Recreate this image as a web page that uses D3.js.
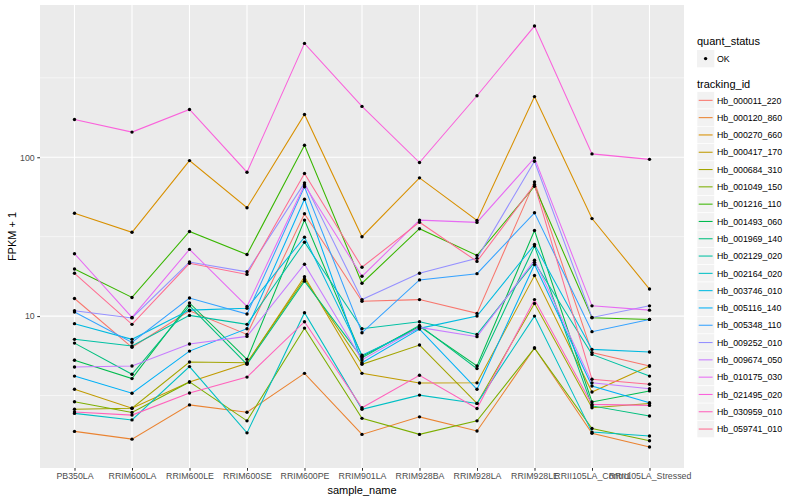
<!DOCTYPE html>
<html>
<head>
<meta charset="utf-8">
<script src="https://cdn.jsdelivr.net/npm/d3@7/dist/d3.min.js"></script>
<style>
  body { margin: 0; background: #fff; }
  text { font-family: "Liberation Sans", Arial, sans-serif; }
</style>
</head>
<body>
<svg width="800" height="500"></svg>
<script>
var samples = ["PB350LA", "RRIM600LA", "RRIM600LE", "RRIM600SE", "RRIM600PE", "RRIM901LA",
  "RRIM928BA", "RRIM928LA", "RRIM928LE", "RRII105LA_Control", "RRII105LA_Stressed"];

var trackingIds = ["Hb_000011_220", "Hb_000120_860", "Hb_000270_660", "Hb_000417_170", "Hb_000684_310",
  "Hb_001049_150", "Hb_001216_110", "Hb_001493_060", "Hb_001969_140", "Hb_002129_020",
  "Hb_002164_020", "Hb_003746_010", "Hb_005116_140", "Hb_005348_110", "Hb_009252_010",
  "Hb_009674_050", "Hb_010175_030", "Hb_021495_020", "Hb_030959_010", "Hb_059741_010"];

// FPKM + 1, one array per gene, in the sample order above
var hb_000011_220 = [12.9, 6.36, 10.8, 7.67, 44.1, 12.4, 12.7, 10.4, 70.0, 5.89, 4.85];
var hb_000120_860 = [1.88, 1.68, 2.76, 2.48, 4.36, 1.80, 2.32, 1.89, 6.29, 1.83, 1.50];
var hb_000270_660 = [44.4, 33.7, 95.3, 48.1, 186, 31.6, 74.2, 40.0, 241, 41.1, 14.8];
var hb_000417_170 = [3.46, 2.63, 3.85, 5.04, 17.7, 4.36, 3.79, 3.80, 18.0, 3.33, 4.85];
var hb_000684_310 = [2.59, 2.63, 5.14, 5.09, 17.1, 4.97, 6.57, 2.82, 12.0, 2.65, 2.82];
var hb_001049_150 = [2.89, 2.47, 3.85, 2.19, 8.40, 2.27, 1.80, 2.19, 6.29, 1.96, 1.64];
var hb_001216_110 = [19.8, 13.1, 34.1, 24.4, 119, 16.1, 35.5, 24.1, 65.7, 9.77, 9.53];
var hb_001493_060 = [5.27, 4.04, 12.1, 5.34, 40.2, 5.58, 8.61, 4.85, 34.6, 2.88, 3.38];
var hb_001969_140 = [6.76, 4.30, 11.6, 4.97, 16.6, 5.47, 8.74, 4.67, 27.6, 2.72, 2.35];
var hb_002129_020 = [7.14, 6.48, 10.1, 8.87, 29.2, 8.33, 9.22, 7.67, 21.8, 5.74, 4.19];
var hb_002164_020 = [2.44, 2.22, 4.81, 1.84, 10.5, 2.59, 3.18, 2.82, 10.0, 1.86, 1.76];
var hb_003746_010 = [8.96, 7.14, 10.9, 11.2, 31.4, 5.68, 8.37, 10.0, 28.2, 6.17, 5.94];
var hb_005116_140 = [4.19, 3.27, 6.02, 8.33, 54.4, 5.09, 8.28, 3.46, 21.1, 3.63, 2.85];
var hb_005348_110 = [10.6, 6.83, 13.0, 10.3, 65.1, 7.86, 16.9, 18.5, 44.7, 7.98, 9.53];
var hb_009252_010 = [10.8, 9.74, 21.9, 19.0, 69.0, 12.7, 18.6, 23.1, 94.4, 9.81, 11.6];
var hb_009674_050 = [4.78, 4.85, 6.67, 7.45, 21.2, 5.30, 8.49, 7.42, 22.5, 3.80, 3.49];
var hb_010175_030 = [24.7, 9.81, 26.3, 11.5, 67.1, 17.8, 40.2, 38.9, 99.1, 11.6, 10.9];
var hb_021495_020 = [173, 144, 200, 80.5, 521, 209, 92.6, 244, 670, 105, 97.0];
var hb_030959_010 = [2.49, 2.38, 3.28, 4.13, 9.22, 2.65, 4.24, 2.62, 12.7, 2.78, 2.74];
var hb_059741_010 = [18.6, 8.87, 21.5, 18.3, 79.0, 20.3, 39.0, 22.1, 67.3, 4.00, 3.72];

var seriesValues = [hb_000011_220, hb_000120_860, hb_000270_660, hb_000417_170, hb_000684_310,
  hb_001049_150, hb_001216_110, hb_001493_060, hb_001969_140, hb_002129_020,
  hb_002164_020, hb_003746_010, hb_005116_140, hb_005348_110, hb_009252_010,
  hb_009674_050, hb_010175_030, hb_021495_020, hb_030959_010, hb_059741_010];

var colors = ["#F8766D", "#EA8331", "#D89000", "#C09B00", "#A3A500", "#7CAE00", "#39B600", "#00BB4E",
  "#00BF7D", "#00C1A3", "#00BFC4", "#00BAE0", "#00B0F6", "#35A2FF", "#9590FF", "#C77CFF",
  "#E76BF3", "#FA62DB", "#FF62BC", "#FF6C91"];

var majorTicks = [10, 100];
var minorTicks = [Math.pow(10, 0.5), Math.pow(10, 1.5), Math.pow(10, 2.5)];

var margin = { top: 5, right: 116, bottom: 32, left: 40 },
  width = 800 - margin.left - margin.right,
  height = 500 - margin.top - margin.bottom;

var svg = d3.select("svg");
var g = svg.append("g")
  .attr("transform", "translate(" + margin.left + "," + margin.top + ")");

// data rows
var rows = [];
trackingIds.forEach(function (id, i) {
  rows.push({ id: id, color: colors[i], values: seriesValues[i].map(function (v, j) {
    return { sample: samples[j], value: v };
  }) });
});

var x = d3.scalePoint().domain(samples).range([0, width]).padding(0.6);

// log scale with ggplot-like 5% expansion
var all = d3.merge(seriesValues);
var lo = Math.log10(d3.min(all)), hi = Math.log10(d3.max(all));
var pad = (hi - lo) * 0.05;
var y = d3.scaleLog().domain([Math.pow(10, lo - pad), Math.pow(10, hi + pad)]).range([height, 0]);

g.append("rect")
  .attr("width", width)
  .attr("height", height)
  .attr("fill", "#EBEBEB");

g.selectAll(".minor")
  .data(minorTicks)
  .enter().append("line")
  .attr("x1", 0).attr("x2", width)
  .attr("y1", function (d) { return y(d); })
  .attr("y2", function (d) { return y(d); })
  .attr("stroke", "#fff").attr("stroke-width", 0.55);

g.selectAll(".major")
  .data(majorTicks)
  .enter().append("line")
  .attr("x1", 0).attr("x2", width)
  .attr("y1", function (d) { return y(d); })
  .attr("y2", function (d) { return y(d); })
  .attr("stroke", "#fff").attr("stroke-width", 1.1);

g.selectAll(".vgrid")
  .data(samples)
  .enter().append("line")
  .attr("x1", function (d) { return x(d); })
  .attr("x2", function (d) { return x(d); })
  .attr("y1", 0).attr("y2", height)
  .attr("stroke", "#fff").attr("stroke-width", 1.1);

var line = d3.line()
  .x(function (d) { return x(d.sample); })
  .y(function (d) { return y(d.value); });

g.selectAll(".series")
  .data(rows)
  .enter().append("path")
  .attr("d", function (d) { return line(d.values); })
  .attr("fill", "none")
  .attr("stroke", function (d) { return d.color; })
  .attr("stroke-width", 1.05);

rows.forEach(function (r) {
  g.selectAll(null)
    .data(r.values)
    .enter().append("circle")
    .attr("cx", function (d) { return x(d.sample); })
    .attr("cy", function (d) { return y(d.value); })
    .attr("r", 1.7)
    .attr("fill", "#000");
});

// axes
var xAxis = d3.axisBottom(x).tickSize(2.75).tickPadding(2.5);
var xg = g.append("g")
  .attr("transform", "translate(0," + height + ")")
  .call(xAxis);
var yAxis = d3.axisLeft(y).tickValues(majorTicks).tickFormat(d3.format("d")).tickSize(2.75).tickPadding(2.5);
var yg = g.append("g").call(yAxis);

[xg, yg].forEach(function (ax) {
  ax.select(".domain").remove();
  ax.selectAll(".tick line").attr("stroke", "#333333").attr("stroke-width", 1.05);
  ax.selectAll(".tick text")
    .attr("fill", "#4D4D4D")
    .style("font-size", "8.8px")
    .style("font-family", "'Liberation Sans', Arial, sans-serif");
});

svg.append("text")
  .attr("x", margin.left + width / 2)
  .attr("y", 494)
  .attr("text-anchor", "middle")
  .style("font-size", "11px")
  .text("sample_name");

svg.append("text")
  .attr("transform", "translate(16," + (margin.top + height / 2) + ") rotate(-90)")
  .attr("text-anchor", "middle")
  .style("font-size", "11px")
  .text("FPKM + 1");

// legends
var lx = 697;
svg.append("text").attr("x", lx).attr("y", 45).style("font-size", "11px").text("quant_status");
svg.append("rect").attr("x", lx).attr("y", 50).attr("width", 17.3).attr("height", 17.3).attr("fill", "#F2F2F2");
svg.append("circle").attr("cx", lx + 8.6).attr("cy", 58.6).attr("r", 1.7).attr("fill", "#000");
svg.append("text").attr("x", lx + 20).attr("y", 61.8).style("font-size", "8.8px").text("OK");

svg.append("text").attr("x", lx).attr("y", 88).style("font-size", "11px").text("tracking_id");
var keyTop = 91.7, keyH = 17.3;
var keys = svg.selectAll(".key")
  .data(rows)
  .enter().append("g")
  .attr("transform", function (d, i) { return "translate(" + lx + "," + (keyTop + i * keyH) + ")"; });
keys.append("rect")
  .attr("width", keyH).attr("height", keyH)
  .attr("fill", "#F2F2F2").attr("stroke", "#fff").attr("stroke-width", 0.6);
keys.append("line")
  .attr("x1", 1.7).attr("x2", keyH - 1.7)
  .attr("y1", keyH / 2).attr("y2", keyH / 2)
  .attr("stroke", function (d) { return d.color; })
  .attr("stroke-width", 1.05);
keys.append("text")
  .attr("x", 20).attr("y", keyH / 2 + 3.2)
  .style("font-size", "8.8px")
  .text(function (d) { return d.id; });
</script>
</body>
</html>
